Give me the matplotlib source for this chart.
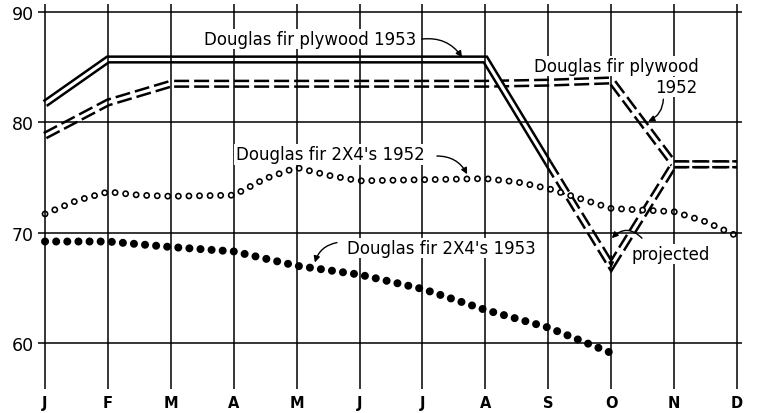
import matplotlib
matplotlib.use('Agg')
import matplotlib.pyplot as plt

plt.rcParams['lines.scale_dashes'] = False
plt.rcParams['font.family'] = 'DejaVu Sans'

# month axis
months = ['J', 'F', 'M', 'A', 'M', 'J', 'J', 'A', 'S', 'O', 'N', 'D']
month_x = list(range(12))

# Douglas fir plywood 1953 (actual J..S, projected S..D)
ply53_x = [0, 1, 2, 3, 4, 5, 6, 7, 8]
ply53 = [81.7, 85.7, 85.7, 85.7, 85.7, 85.7, 85.7, 85.7, 76.3]
ply53_proj_x = [8, 9, 10, 11]
ply53_proj = [76.3, 67.0, 76.2, 76.2]

# Douglas fir plywood 1952
ply52 = [78.8, 81.8, 83.5, 83.5, 83.5, 83.5, 83.5, 83.5, 83.6, 83.8, 76.2, 76.2]

# Douglas fir 2X4's 1952 (read at months and some half months)
x4_52_x = [0, 0.5, 1, 1.5, 2, 3, 3.5, 4, 4.5, 5, 6, 7, 7.5, 8, 8.5, 9, 10, 10.5, 11]
x4_52 = [71.7, 72.9, 73.7, 73.4, 73.3, 73.4, 74.9, 75.9, 75.2, 74.7, 74.8, 74.9,
         74.6, 74.0, 73.1, 72.2, 71.9, 71.0, 69.7]

# Douglas fir 2X4's 1953
x4_53_x = [0, 1, 2, 3, 4, 5, 6, 7, 8, 9]
x4_53 = [69.2, 69.2, 68.7, 68.3, 67.0, 66.2, 64.9, 63.0, 61.4, 59.1]

W, H = 757, 414
fig = plt.figure(figsize=(W / 100, H / 100), dpi=100)
left, right, top, bottom = 41.9, 742, 5, 390
ax = fig.add_axes([left / W, (H - bottom) / H, (right - left) / W, (bottom - top) / H])
ax.set_xlim(-0.05, 11.08)
ax.set_ylim(55.83, 90.73)
for s in ax.spines.values():
    s.set_visible(False)

ax.set_xticks(month_x, months, fontweight='bold')
ax.set_yticks([60, 70, 80, 90])
ax.tick_params(axis='x', length=0, pad=4, labelsize=10.5)
ax.tick_params(axis='y', length=3, width=1.1, pad=3, labelsize=12.5)
ax.grid(True, color='black', lw=1.1)
ax.set_axisbelow(False)

OUT, IN = 5.9, 2.3
dash = (0, (10.8, 3.6))


def double_line(x, y, dashed=False):
    ls = dash if dashed else '-'
    ax.plot(x, y, color='black', lw=OUT, ls=ls, solid_joinstyle='miter',
            dash_joinstyle='miter', solid_capstyle='butt', dash_capstyle='butt',
            clip_on=False)
    ax.plot(x, y, color='white', lw=IN, solid_joinstyle='miter',
            solid_capstyle='butt', clip_on=False)


double_line(month_x, ply52, dashed=True)
double_line(ply53_x, ply53)
double_line(ply53_proj_x, ply53_proj, dashed=True)

# open circles
ax.plot(x4_52_x, x4_52, color='black', lw=5.0, ls=(0, (0.01, 7.6)),
        dash_capstyle='round', clip_on=False)
ax.plot(x4_52_x, x4_52, color='white', lw=2.6, ls=(0, (0.01, 7.6)),
        dash_capstyle='round', clip_on=False)
# filled dots
ax.plot(x4_53_x, x4_53, color='black', lw=5.8, ls=(0, (0.01, 8.0)),
        dash_capstyle='round', clip_on=False)

box = dict(facecolor='white', edgecolor='none', pad=1)
fs = 12
ax.text(4.21, 87.55, 'Douglas fir plywood 1953', fontsize=fs, ha='center', va='center', bbox=box)
ax.text(9.09, 85.1, 'Douglas fir plywood', fontsize=fs, ha='center', va='center', bbox=box)
ax.text(10.03, 83.2, '1952', fontsize=fs, ha='center', va='center', bbox=box)
ax.text(4.53, 77.1, "Douglas fir 2X4's 1952", fontsize=fs, ha='center', va='center', bbox=box)
ax.text(6.30, 68.6, "Douglas fir 2X4's 1953", fontsize=fs, ha='center', va='center', bbox=box)
ax.text(9.95, 68.06, 'projected', fontsize=fs, ha='center', va='center', bbox=box)

arrows = [
    ((5.99, 87.55), (6.63, 85.9), -0.3),
    ((9.83, 82.1), (9.59, 80.1), -0.3),
    ((6.23, 76.95), (6.71, 75.3), -0.3),
    ((4.64, 69.1), (4.29, 67.3), 0.3),
    ((9.49, 69.5), (9.01, 69.5), 0.5),
]
for start, tip, rad in arrows:
    ax.annotate('', xy=tip, xytext=start, zorder=4,
                arrowprops=dict(arrowstyle='-|>', color='black', lw=1,
                                mutation_scale=9, shrinkA=0, shrinkB=0,
                                connectionstyle=f'arc3,rad={rad}'))
ax.annotate('', xy=(9, 66.8), xytext=(9, 67.9), zorder=4,
            arrowprops=dict(arrowstyle='-|>', color='black', lw=1,
                            mutation_scale=8, shrinkA=0, shrinkB=0))

fig.savefig('out.png', dpi=100)
